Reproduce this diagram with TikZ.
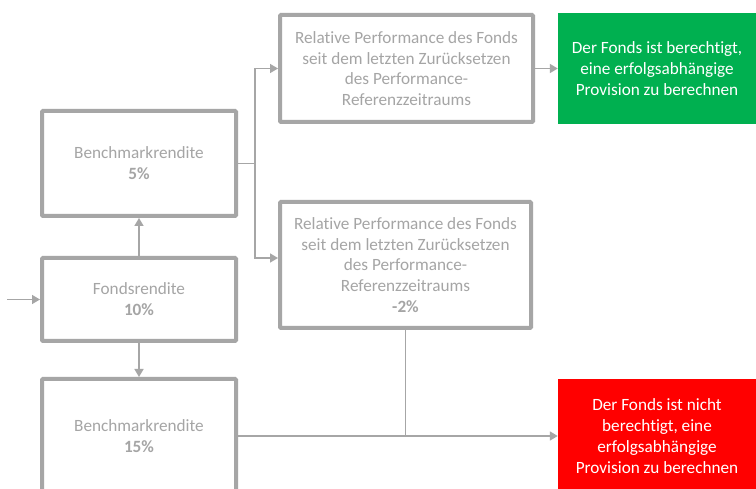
\documentclass[tikz,border=0pt]{standalone}
\usepackage{fontspec}
\setmainfont[RawFeature={-liga;-clig;-dlig}]{Carlito}
\usetikzlibrary{arrows.meta,calc}
\definecolor{bgray}{HTML}{A6A6A6}
\definecolor{tgray}{HTML}{A5A5A5}
\definecolor{okgreen}{HTML}{00B050}
\definecolor{nored}{HTML}{FF0000}
\begin{document}
\begin{tikzpicture}[x=1pt,y=-1pt,
  every node/.style={font=\fontsize{17.2}{20.8}\selectfont, align=center, inner sep=0pt},
  gbox/.style={draw=bgray, line width=4pt, text=tgray, rounded corners=1pt},
  fbox/.style={text=white, minimum width=198pt, minimum height=113pt},
  conn/.style={draw=bgray, line width=1.6pt},
  arr/.style={conn, -{Triangle[length=8pt,width=9pt]}}]
\useasboundingbox (0,0) rectangle (756,489);
\fill[white] (0,0) rectangle (756,489);
\node[gbox, minimum width=194pt, minimum height=105pt] (b5) at (139,163.5) {Benchmarkrendite\\\textbf{5\%}};
\node[gbox, minimum width=194pt, minimum height=83pt] (fonds) at (139,299.5) {Fondsrendite\\\textbf{10\%}};
\node[gbox, minimum width=194pt, minimum height=114pt] (b15) at (139,436) {Benchmarkrendite\\\textbf{15\%}};
\node[gbox, minimum width=253pt, minimum height=107pt] (rel1) at (406.5,68.5) {Relative Performance des Fonds\\seit dem letzten Zurücksetzen\\des Performance-\\Referenzzeitraums};
\node[gbox, minimum width=251pt, minimum height=126pt] (rel2) at (405.5,265) {Relative Performance des Fonds\\seit dem letzten Zurücksetzen\\des Performance-\\Referenzzeitraums\\\textbf{-2\%}};
\node[fbox, fill=okgreen, minimum height=111pt] (green) at (657,68.5) {Der Fonds ist berechtigt,\\eine erfolgsabhängige\\Provision zu berechnen};
\node[fbox, fill=nored, minimum height=114pt] (red) at (657,436) {Der Fonds ist nicht\\berechtigt, eine\\erfolgsabhängige\\Provision zu berechnen};
\coordinate (in) at (7,299.5);
\coordinate (j1) at (255,163.5);
\draw[arr] (in) -- (fonds.west);
\draw[arr] (fonds.north) -- (b5.south);
\draw[arr] (fonds.south) -- (b15.north);
\draw[conn] (b5.east) -- (j1);
\draw[arr] (j1) |- (rel1.west);
\draw[arr] (j1) |- ([yshift=7pt]rel2.west);
\draw[arr] (rel1.east) -- (green.west);
\draw[arr] (b15.east) -- (red.west);
\draw[conn] (rel2.south) -- (rel2.south |- red.west);
\end{tikzpicture}
\end{document}
